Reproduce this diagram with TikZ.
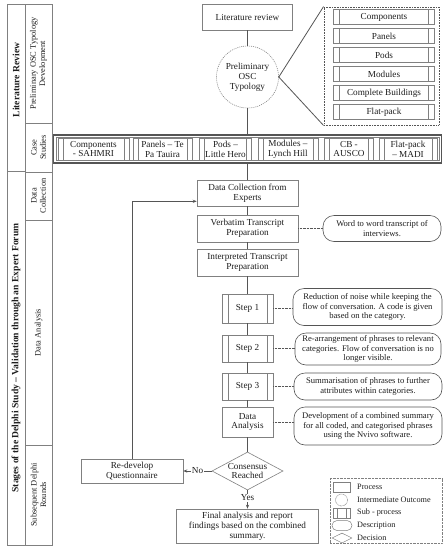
\documentclass[tikz,border=0pt]{standalone}
\usepackage{fontspec}
\setmainfont{Liberation Serif}
\usetikzlibrary{shapes.geometric,arrows.meta,calc}
\definecolor{bx}{HTML}{808080}
\definecolor{ln}{HTML}{555555}
\definecolor{tx}{HTML}{1E1E1E}
\newcommand\FMain{\fontsize{9.2}{9.8}\selectfont}
\newcommand\FDesc{\fontsize{8.6}{9.4}\selectfont}
\newcommand\FLeg{\fontsize{8.2}{9}\selectfont}
\newcommand\FSide{\fontsize{8.4}{9.4}\selectfont}
\newcommand\FSideB{\fontsize{9.6}{10}\selectfont\bfseries}
\begin{document}
\begin{tikzpicture}[x=1pt,y=-1pt,
  every node/.style={text=tx},
  proc/.style={draw=bx, line width=0.6pt, fill=white, align=center, inner sep=0.5pt, font=\FMain},
  sub/.style={proc, path picture={
      \draw[bx, line width=0.6pt] ($(path picture bounding box.north west)+(#1,0)$) -- ($(path picture bounding box.south west)+(#1,0)$);
      \draw[bx, line width=0.6pt] ($(path picture bounding box.north east)+(-#1,0)$) -- ($(path picture bounding box.south east)+(-#1,0)$);}},
  sub/.default=5,
  desc/.style={draw=ln, line width=0.6pt, rounded corners=11pt, align=center, inner sep=1pt, font=\FDesc},
  conn/.style={ln, line width=0.8pt},
  dconn/.style={ln, line width=0.8pt, dash pattern=on 0.8pt off 0.6pt},
  arr/.style={conn, -{Stealth[length=4pt,width=3.2pt]}},
  side/.style={rotate=90, align=center, font=\FSide},
  sideb/.style={rotate=90, align=center, font=\FSideB},
]
\useasboundingbox (0,0) rectangle (445,550);

% left table
\draw[bx, line width=0.6pt] (7,4) rectangle (52,545);
\draw[bx, line width=0.6pt] (25,4) -- (25,545);
\draw[bx, line width=0.6pt] (7,171) -- (25,171);
\draw[bx, line width=0.6pt] (25,123) -- (52,123) (25,172) -- (52,172) (25,220) -- (52,220) (25,445) -- (52,445);
\node[sideb] (tlr) at (16,80) {Literature Review};
\node[sideb] (tst) at (16,358) {Stages of the Delphi Study – Validation through an Expert Forum};
\node[side] (tpre) at (38.5,63.5) {Preliminary OSC Typology\\Development};
\node[side] (tcs) at (38.5,147.5) {Case\\Studies};
\node[side] (tdc) at (38.5,196) {Data\\Collection};
\node[side] (tda) at (38.5,332.5) {Data Analysis};
\node[side] (tsd) at (38.5,495) {Subsequent Delphi\\Rounds};

% literature & typology
\node[proc, minimum width=90, minimum height=26] (lit) at (247.5,17) {Literature review};
\node[circle, draw=bx, line width=0.6pt, dash pattern=on 1pt off 1pt, minimum size=62, inner sep=0, align=center, font=\FMain] (circ) at (247.5,77) {Preliminary\\OSC\\Typology};
\node[draw=ln, line width=0.9pt, dash pattern=on 0.9pt off 0.7pt, minimum width=115, minimum height=118, inner sep=0] (typ) at (381.5,66) {};
\node[sub=6, minimum width=101, minimum height=15] (t1) at (384,17) {Components};
\node[sub=6, minimum width=101, minimum height=15] (t2) at (384,36) {Panels};
\node[sub=6, minimum width=101, minimum height=15] (t3) at (384,55) {Pods};
\node[sub=6, minimum width=101, minimum height=15] (t4) at (384,74) {Modules};
\node[sub=6, minimum width=101, minimum height=15] (t5) at (384,93) {Complete Buildings};
\node[sub=6, minimum width=101, minimum height=15] (t6) at (384,112) {Flat-pack};
\draw[conn] (lit.south) -- (circ.north);
\draw[conn] (circ.east) -- (typ.north west);
\draw[conn] (circ.east) -- (typ.south west);

% case studies bar
\node[draw=ln, line width=1.4pt, minimum width=388, minimum height=28, inner sep=0] (bar) at (247.5,149) {};
\node[draw=bx, line width=0.5pt, minimum width=383, minimum height=23, inner sep=0] (barin) at (247.5,149) {};
\node[sub, minimum width=71, minimum height=22] (c1) at (93.5,149) {Components\\- SAHMRI};
\node[sub, minimum width=59, minimum height=22] (c2) at (162.5,149) {Panels – Te\\Pa Tauira};
\node[sub, minimum width=52, minimum height=22] (c3) at (225.5,149) {Pods –\\Little Hero};
\node[sub, minimum width=60, minimum height=22] (c4) at (288,149) {Modules –\\Lynch Hill};
\node[sub, minimum width=49, minimum height=22] (c5) at (349,149) {CB -\\AUSCO};
\node[sub, minimum width=58, minimum height=22] (c6) at (408,149) {Flat-pack\\– MADI};
\draw[conn] (circ.south) -- (bar.north);

% main flow
\node[proc, minimum width=101, minimum height=26] (dc) at (247.5,193) {Data Collection from\\Experts};
\node[proc, minimum width=101, minimum height=27] (verb) at (247.5,228.5) {Verbatim Transcript\\Preparation};
\node[proc, minimum width=101, minimum height=27] (interp) at (247.5,262.5) {Interpreted Transcript\\Preparation};
\node[sub=6, minimum width=51, minimum height=29] (s1) at (247.5,308.5) {Step 1};
\node[sub=6, minimum width=51, minimum height=27] (s2) at (247.5,348.5) {Step 2};
\node[sub=6, minimum width=51, minimum height=27] (s3) at (247.5,386.5) {Step 3};
\node[proc, minimum width=51, minimum height=30] (da) at (247.5,422) {Data\\Analysis};
\node[diamond, draw=bx, line width=0.6pt, fill=white, minimum width=71, minimum height=38, inner sep=0, aspect=1.87] (dec) at (247.5,471) {};
\node[align=center, font=\FMain] (dect) at (dec) {Consensus\\Reached};
\node[proc, minimum width=102, minimum height=24] (redev) at (132,471) {Re-develop\\Questionnaire};
\node[proc, minimum width=142, minimum height=34] (final) at (247.5,526) {Final analysis and report\\findings based on the combined\\summary.};

\draw[conn] (bar.south) -- (dc.north);
\draw[conn] (dc.south) -- (verb.north);
\draw[conn] (verb.south) -- (interp.north);
\draw[conn] (interp.south) -- (s1.north);
\draw[conn] (s1.south) -- (s2.north);
\draw[conn] (s2.south) -- (s3.north);
\draw[conn] (s3.south) -- (da.north);
\draw[conn] (da.south) -- (dec.north);
\draw[arr] (dec.south) -- node[pos=0.4, fill=white, inner sep=1pt, font=\FMain] {Yes} (final.north);
\draw[arr] (dec.west) -- node[fill=white, inner sep=1pt, font=\FMain] {No} (redev.east);
\coordinate (fb) at ($(dc.south west)+(0,-5)$);
\draw[arr] (redev.north) |- (fb);

% descriptions
\node[desc, minimum width=118, minimum height=26] (d1) at (382,228.5) {Word to word transcript of\\interviews.};
\node[desc, minimum width=149, minimum height=37] (d2) at (367.5,307) {Reduction of noise while keeping the\\flow of conversation. A code is given\\based on the category.};
\node[desc, minimum width=146, minimum height=32] (d3) at (368,349) {Re-arrangement of phrases to relevant\\categories. Flow of conversation is no\\longer visible.};
\node[desc, minimum width=148, minimum height=27] (d4) at (368,386.5) {Summarisation of phrases to further\\attributes within categories.};
\node[desc, minimum width=148, minimum height=38] (d5) at (368,426) {Development of a combined summary\\for all coded, and categorised phrases\\using the Nvivo software.};
\draw[dconn] (verb.east) -- (verb.east -| d1.west);
\draw[dconn] (s1.east) -- (s1.east -| d2.west);
\draw[dconn] (s2.east) -- (s2.east -| d3.west);
\draw[dconn] (s3.east) -- (s3.east -| d4.west);
\draw[dconn] (da.east) -- (da.east -| d5.west);

% legend
\node[draw=bx, line width=0.6pt, dash pattern=on 0.8pt off 0.6pt, minimum width=112, minimum height=65, inner sep=0] (leg) at (386,511) {};
\node[draw=bx, line width=0.5pt, minimum width=17, minimum height=10, inner sep=0] (lg1) at (341.5,487) {};
\node[circle, draw=bx, line width=0.5pt, dash pattern=on 0.8pt off 0.6pt, minimum size=12, inner sep=0] (lg2) at (341.5,500) {};
\node[sub=4, line width=0.5pt, minimum width=17, minimum height=10, inner sep=0] (lg3) at (341.5,513) {};
\node[draw=bx, line width=0.5pt, rounded corners=5pt, minimum width=20, minimum height=10, inner sep=0] (lg4) at (342,525.5) {};
\node[diamond, draw=bx, line width=0.5pt, minimum width=20, minimum height=10, inner sep=0, aspect=2] (lg5) at (342,538) {};
\node[anchor=west, font=\FLeg, inner sep=0] (lt1) at (357,487) {Process};
\node[anchor=west, font=\FLeg, inner sep=0] (lt2) at (357,500) {Intermediate Outcome};
\node[anchor=west, font=\FLeg, inner sep=0] (lt3) at (357,513) {Sub - process};
\node[anchor=west, font=\FLeg, inner sep=0] (lt4) at (357,525.5) {Description};
\node[anchor=west, font=\FLeg, inner sep=0] (lt5) at (357,538) {Decision};
\end{tikzpicture}
\end{document}
